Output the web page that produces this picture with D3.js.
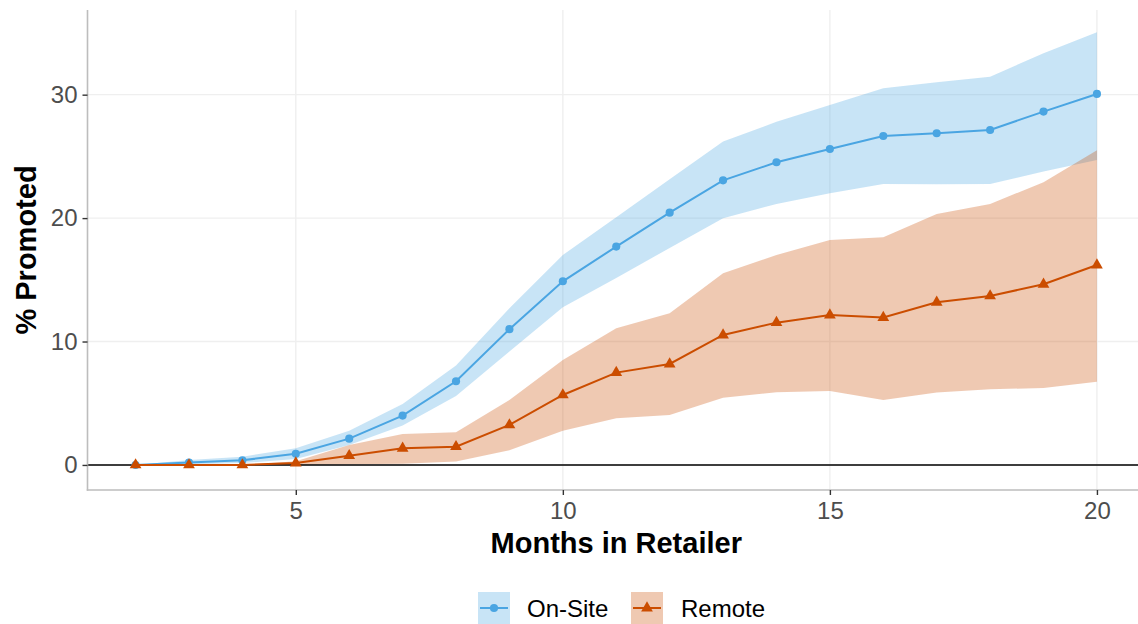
<!DOCTYPE html>
<html>
<head>
<meta charset="utf-8">
<script src="https://cdn.jsdelivr.net/npm/d3@7"></script>
<style>
  html, body { margin: 0; padding: 0; background: #ffffff; }
  svg { display: block; font-family: "Liberation Sans", Arial, Helvetica, sans-serif; }
</style>
</head>
<body>
<svg id="chart" width="1138" height="624"></svg>
<script>
// Months since joining the retailer
const months = [2, 3, 4, 5, 6, 7, 8, 9, 10, 11, 12, 13, 14, 15, 16, 17, 18, 19, 20];

// On-Site workers: estimate and confidence band (% promoted)
const onsiteEst = [0, 0.2, 0.38, 0.9, 2.13, 4.0, 6.78, 11.0, 14.88, 17.69, 20.44, 23.06, 24.52, 25.6, 26.65, 26.87, 27.14, 28.63, 30.06];
const onsiteLow = [0, 0.05, 0.15, 0.49, 1.62, 3.19, 5.59, 9.2, 12.78, 15.15, 17.58, 19.99, 21.15, 22.01, 22.77, 22.74, 22.77, 23.77, 24.7];
const onsiteHigh = [0, 0.4, 0.67, 1.35, 2.78, 4.94, 8.05, 12.7, 17.0, 20.06, 23.14, 26.2, 27.8, 29.17, 30.52, 31.0, 31.46, 33.35, 35.06];

// Remote workers: estimate and confidence band (% promoted)
const remoteEst = [0, 0, 0, 0.15, 0.75, 1.35, 1.48, 3.24, 5.67, 7.48, 8.18, 10.53, 11.53, 12.15, 11.94, 13.18, 13.69, 14.64, 16.2];
const remoteLow = [0, 0, 0, 0, 0.05, 0.1, 0.27, 1.2, 2.78, 3.78, 4.05, 5.45, 5.89, 6.0, 5.27, 5.86, 6.13, 6.24, 6.75];
const remoteHigh = [0, 0, 0, 0.3, 1.62, 2.51, 2.65, 5.27, 8.5, 11.07, 12.29, 15.53, 17.01, 18.23, 18.45, 20.34, 21.15, 22.9, 25.5];

// Axis ticks
const xTicks = [5, 10, 15, 20];
const yTicks = [0, 10, 20, 30];

const seriesNames = ["On-Site", "Remote"];
const seriesColors = ["#4aa5e2", "#cb4d00"];

const svg = d3.select("#chart");
const W = 1138, H = 624;
const panel = { left: 87.5, right: 1145, top: 10, bottom: 490 };

const x = d3.scaleLinear().domain([1.1, 20.9]).range([panel.left, panel.right]);
const y = d3.scaleLinear().domain([-2.03, 36.86]).range([panel.bottom, panel.top]);

const toRows = (est, lo, hi) => months.map((m, i) => ({ m, est: est[i], lo: lo[i], hi: hi[i] }));
const series = [
  { name: seriesNames[0], color: seriesColors[0], symbol: d3.symbolCircle, size: 52, rows: toRows(onsiteEst, onsiteLow, onsiteHigh) },
  { name: seriesNames[1], color: seriesColors[1], symbol: d3.symbolTriangle, size: 60, rows: toRows(remoteEst, remoteLow, remoteHigh) }
];

svg.append("defs").append("clipPath").attr("id", "panelClip")
  .append("rect").attr("x", panel.left).attr("y", panel.top)
  .attr("width", W - panel.left).attr("height", panel.bottom - panel.top);

// Grid lines
const grid = svg.append("g");
grid.selectAll("line.gx").data(xTicks).join("line")
  .attr("x1", d => x(d)).attr("x2", d => x(d))
  .attr("y1", panel.top).attr("y2", panel.bottom)
  .attr("stroke", "#efefef").attr("stroke-width", 1.4);
grid.selectAll("line.gy").data(yTicks).join("line")
  .attr("x1", panel.left).attr("x2", W)
  .attr("y1", d => y(d)).attr("y2", d => y(d))
  .attr("stroke", "#efefef").attr("stroke-width", 1.4);

const plot = svg.append("g").attr("clip-path", "url(#panelClip)");

// Confidence ribbons
const area = d3.area().x(d => x(d.m)).y0(d => y(d.lo)).y1(d => y(d.hi));
series.forEach(s => {
  plot.append("path").datum(s.rows)
    .attr("d", area)
    .attr("fill", s.color).attr("fill-opacity", 0.3);
});

// Zero reference line
plot.append("line")
  .attr("x1", panel.left).attr("x2", W)
  .attr("y1", y(0)).attr("y2", y(0))
  .attr("stroke", "#000").attr("stroke-width", 1.6);

// Estimate lines and markers
const line = d3.line().x(d => x(d.m)).y(d => y(d.est));
series.forEach(s => {
  plot.append("path").datum(s.rows)
    .attr("d", line).attr("fill", "none")
    .attr("stroke", s.color).attr("stroke-width", 2);
  plot.selectAll(null).data(s.rows).join("path")
    .attr("transform", d => `translate(${x(d.m)},${y(d.est)})`)
    .attr("d", d3.symbol().type(s.symbol).size(s.size))
    .attr("fill", s.color);
});

// Axes
const axisColor = "#bdbdbd";
svg.append("line")
  .attr("x1", panel.left).attr("x2", panel.left)
  .attr("y1", panel.top).attr("y2", panel.bottom + 0.75)
  .attr("stroke", axisColor).attr("stroke-width", 1.6);
svg.append("line")
  .attr("x1", panel.left - 0.75).attr("x2", W)
  .attr("y1", panel.bottom).attr("y2", panel.bottom)
  .attr("stroke", axisColor).attr("stroke-width", 1.6);

const xAxis = svg.append("g").attr("transform", `translate(0,${panel.bottom})`)
  .call(d3.axisBottom(x).tickValues(xTicks).tickSize(5).tickPadding(7).tickFormat(d3.format("d")));
const yAxis = svg.append("g").attr("transform", `translate(${panel.left},0)`)
  .call(d3.axisLeft(y).tickValues(yTicks).tickSize(5).tickPadding(5).tickFormat(d3.format("d")));
[xAxis, yAxis].forEach(a => {
  a.select(".domain").remove();
  a.selectAll(".tick line").attr("stroke", "#333333").attr("stroke-width", 1.4);
  a.selectAll(".tick text").attr("fill", "#4d4d4d")
    .style("font-size", "24px").style("font-family", "'Liberation Sans', Arial, sans-serif");
});

// Axis titles
svg.append("text")
  .attr("x", (panel.left + panel.right) / 2).attr("y", 553)
  .attr("text-anchor", "middle")
  .style("font-size", "29px").style("font-weight", "bold").attr("fill", "#000")
  .text("Months in Retailer");
svg.append("text")
  .attr("transform", `translate(36,${(panel.top + panel.bottom) / 2}) rotate(-90)`)
  .attr("text-anchor", "middle")
  .style("font-size", "29px").style("font-weight", "bold").attr("fill", "#000")
  .text("% Promoted");

// Legend
const legendItems = [
  { s: series[0], keyX: 478, textX: 527 },
  { s: series[1], keyX: 631, textX: 681 }
];
const legend = svg.append("g");
legendItems.forEach(it => {
  const g = legend.append("g");
  g.append("rect")
    .attr("x", it.keyX).attr("y", 592).attr("width", 32).attr("height", 34)
    .attr("fill", it.s.color).attr("fill-opacity", 0.3);
  g.append("line")
    .attr("x1", it.keyX + 2).attr("x2", it.keyX + 30)
    .attr("y1", 608).attr("y2", 608)
    .attr("stroke", it.s.color).attr("stroke-width", 2);
  g.append("path")
    .attr("transform", `translate(${it.keyX + 16},608)`)
    .attr("d", d3.symbol().type(it.s.symbol).size(it.s.size))
    .attr("fill", it.s.color);
  g.append("text")
    .attr("x", it.textX).attr("y", 617)
    .style("font-size", "24px").attr("fill", "#000")
    .text(it.s.name);
});
</script>
</body>
</html>
